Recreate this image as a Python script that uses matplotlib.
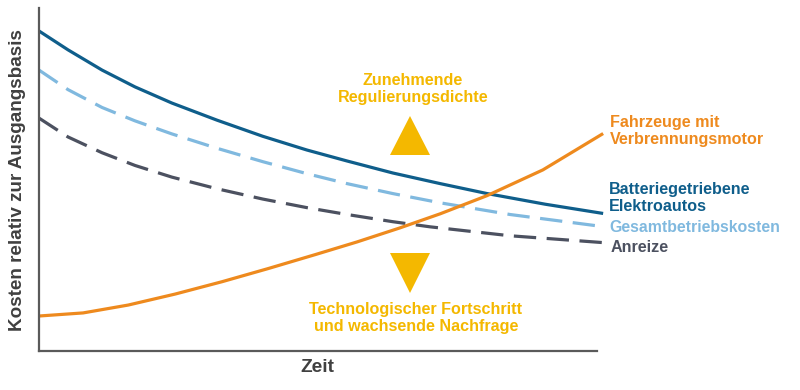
import matplotlib
matplotlib.use("Agg")
import matplotlib.pyplot as plt
from matplotlib.patches import Polygon

plt.rcParams['font.family'] = ['Liberation Sans', 'DejaVu Sans']

# Data (x = Zeit 0..100, y = Kosten relativ 0..100)
ev_x = [0, 5.2, 11.3, 17.2, 23.8, 31.9, 40.1, 48.0, 55.2, 63.4, 71.9, 80.3, 90.7, 101.1]
ev_y = [93.3, 87.8, 81.9, 77.0, 72.3, 67.3, 62.6, 58.6, 55.4, 51.9, 48.8, 45.9, 42.8, 40.1]

tco_x = [0, 5.2, 11.3, 17.2, 23.8, 31.9, 40.1, 48.0, 55.2, 63.4, 71.9, 84.4, 100]
tco_y = [81.9, 76.2, 71.0, 67.1, 63.3, 59.1, 55.2, 51.7, 48.8, 45.9, 43.2, 39.8, 36.5]

inc_x = [0, 5.2, 11.3, 17.2, 23.8, 31.9, 40.1, 48.0, 55.2, 63.4, 70.1, 84.4, 101.1]
inc_y = [67.9, 62.4, 57.8, 54.1, 50.7, 47.3, 44.3, 41.8, 39.8, 37.7, 36.2, 33.6, 31.6]

ice_x = [0, 7.9, 16.0, 24.4, 32.8, 41.0, 49.5, 57.0, 64.7, 71.9, 80.3, 90.3, 101.1]
ice_y = [10.2, 11.1, 13.4, 16.6, 20.2, 24.0, 28.1, 31.8, 35.9, 40.0, 45.3, 52.8, 63.4]

W, H = 800, 390
fig = plt.figure(figsize=(W / 100, H / 100), dpi=100)
ax = fig.add_axes([39 / W, 39 / H, 558 / W, 343 / H])
ax.set_xlim(0, 100)
ax.set_ylim(0, 100)

c_ev = '#0F5E8B'
c_tco = '#80B9DF'
c_inc = '#4C5160'
c_ice = '#EE8A1E'
c_gold = '#F4B800'
c_axis = '#5A5A5A'

lw = 2.3
ax.plot(ev_x, ev_y, color=c_ev, lw=lw, clip_on=False, solid_capstyle='butt',
        solid_joinstyle='round')
ax.plot(tco_x, tco_y, color=c_tco, lw=lw, clip_on=False, dashes=(7.0, 3.3))
ax.plot(inc_x, inc_y, color=c_inc, lw=lw, clip_on=False, dashes=(7.0, 3.3))
ax.plot(ice_x, ice_y, color=c_ice, lw=lw, clip_on=False, solid_capstyle='butt',
        solid_joinstyle='round')

for s in ['top', 'right']:
    ax.spines[s].set_visible(False)
for s in ['left', 'bottom']:
    ax.spines[s].set_color(c_axis)
    ax.spines[s].set_linewidth(1.6)
ax.set_xticks([])
ax.set_yticks([])


def ft(x, y, s, **kw):
    fig.text(x / W, 1 - y / H, s, fontweight='bold', **kw)


ft(18, 180, 'Kosten relativ zur Ausgangsbasis', rotation=90, ha='center',
   va='center', fontsize=13.6, color='#404040')
ft(317, 368, 'Zeit', ha='center', va='center', fontsize=13.8, color='#404040')

ft(413, 89, 'Zunehmende\nRegulierungsdichte', ha='center', va='center',
   fontsize=11.6, color=c_gold, linespacing=1.1)
ft(416, 318, 'Technologischer Fortschritt\nund wachsende Nachfrage', ha='center',
   va='center', fontsize=11.6, color=c_gold, linespacing=1.1)

ft(610, 131, 'Fahrzeuge mit\nVerbrennungsmotor', ha='left', va='center',
   fontsize=11.6, color=c_ice, linespacing=1.1)
ft(609, 198, 'Batteriegetriebene\nElektroautos', ha='left', va='center',
   fontsize=11.6, color=c_ev, linespacing=1.1)
ft(609, 228, 'Gesamtbetriebskosten', ha='left', va='center',
   fontsize=11.4, color=c_tco)
ft(611, 247, 'Anreize', ha='left', va='center', fontsize=11.6, color=c_inc)


def tri(pts):
    p = Polygon([(x / W, 1 - y / H) for x, y in pts], closed=True,
                transform=fig.transFigure, facecolor=c_gold, edgecolor='none')
    fig.patches.append(p)


tri([(410, 116), (390, 155), (430, 155)])
tri([(390, 253), (430, 253), (410, 293)])

fig.savefig('out.png', dpi=100, facecolor='white')
